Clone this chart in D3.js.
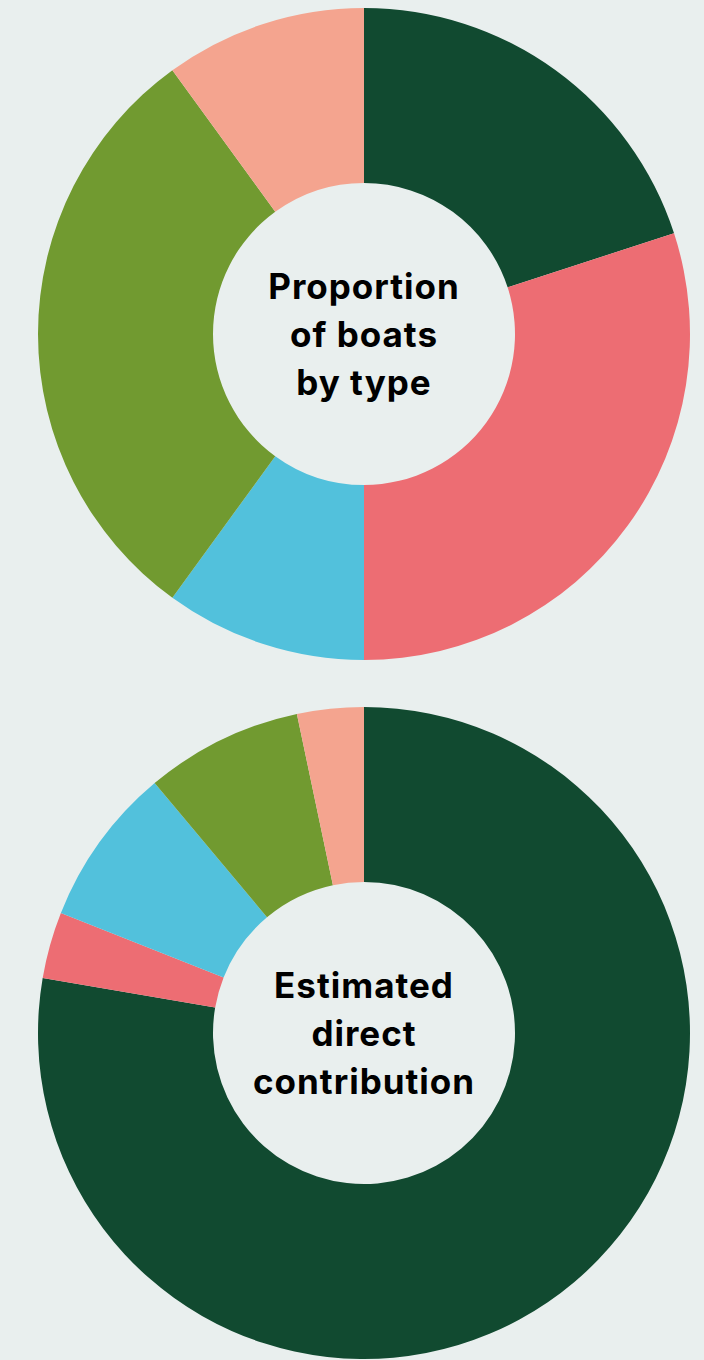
<!DOCTYPE html>
<html>
<head>
<meta charset="utf-8">
<script src="https://cdn.jsdelivr.net/npm/d3@7"></script>
<style>
  html, body { margin: 0; padding: 0; background: #e9efee; }
  svg { display: block; }
</style>
</head>
<body>
<div id="chart"></div>
<script>
// boat types (same order in both rings, clockwise from 12 o'clock)
var types = ["Type A", "Type B", "Type C", "Type D", "Type E"];
var colours = ["#114a30", "#ed6d73", "#52c1dc", "#719a30", "#f4a48f"];

// share of boats by type (%)
var boatShare = [20, 30, 10, 30, 10];
// estimated direct contribution by type (%)
var contribShare = [77.7, 3.3, 7.9, 7.8, 3.3];

var titles1 = ["Proportion", "of boats", "by type"];
var titles2 = ["Estimated", "direct", "contribution"];

var W = 704, H = 1360;
var rOut = 326, rIn = 151;

var svg = d3.select("#chart")
  .append("svg")
  .attr("width", W)
  .attr("height", H);

svg.append("rect").attr("width", W).attr("height", H).attr("fill", "#e9efee");

var colour = d3.scaleOrdinal().domain(types).range(colours);

function donut(values, cx, cy, lines) {
  var data = types.map(function(t, i) { return {type: t, value: values[i]}; });
  var pie = d3.pie().sort(null).value(function(d) { return d.value; });
  var arc = d3.arc().innerRadius(rIn).outerRadius(rOut);

  var g = svg.append("g").attr("transform", "translate(" + cx + "," + cy + ")");
  g.selectAll("path")
    .data(pie(data))
    .enter()
    .append("path")
    .attr("d", arc)
    .attr("fill", function(d) { return colour(d.data.type); });

  // centre label, 3 lines
  var lh = 48;
  g.selectAll("text")
    .data(lines)
    .enter()
    .append("text")
    .attr("x", 0)
    .attr("y", function(d, i) { return (i - 1) * lh + 13; })
    .attr("text-anchor", "middle")
    .attr("font-family", "Inter, 'DejaVu Sans', sans-serif")
    .attr("font-weight", 700)
    .attr("font-size", 35)
    .attr("letter-spacing", 1)
    .attr("fill", "#000")
    .text(function(d) { return d; });
}

donut(boatShare, 364, 334, titles1);
donut(contribShare, 364, 1033, titles2);
</script>
</body>
</html>
